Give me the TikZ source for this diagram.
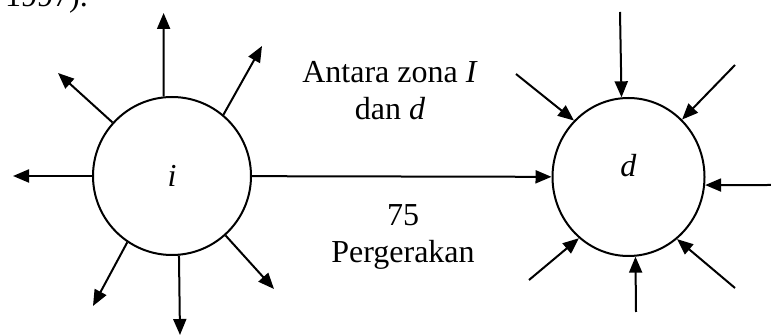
\documentclass[tikz,border=0pt]{standalone}
\usepackage{fontspec}
\setmainfont{Liberation Serif}
\usetikzlibrary{arrows.meta,shapes.geometric}

\begin{document}
\begin{tikzpicture}[
  x=1pt, y=-1pt,
  font=\fontsize{32}{37}\selectfont,
  zone/.style={circle, draw, line width=2pt, minimum size=158pt, inner sep=0pt},
  arr/.style={-{Triangle[length=16pt, width=13pt]}, line width=2pt},
  lbl/.style={anchor=base, align=center, inner sep=0pt}
]
  \clip (0,0) rectangle (771,336);
  \node[anchor=base west, inner sep=0pt] (cite) at (5,7) {1997).};
  \node[zone] (i) at (172,176) {\textit{i}};
  \node[zone, ellipse, minimum width=152pt, minimum height=158pt,
        label={[yshift=11pt]center:\textit{d}}] (d) at (628.5,177) {};
  \draw[arr] (i) -- (d);
  \node[lbl] (between) at (390,120) {Antara zona \textit{I}\\dan \textit{d}};
  \node[lbl] (trips) at (403,263) {75\\Pergerakan};
  % trips leaving zone i
  \foreach \ang/\px/\py [count=\k] in {96/163.6/13, 50.7/262/46, 138.6/58/73,
      180/13/176, 236.3/93/306, 275.8/180/335, 312/274/289} {
    \coordinate (out\k) at (\px,\py);
    \draw[arr] (i.\ang) -- (out\k);
  }
  % trips entering zone d
  \foreach \ang/\px/\py [count=\k] in {95.7/620/12, 134.3/516/74, 47.8/735/65,
      354/771/185, 231/529/280, 275.3/636/312, 308/735/288} {
    \coordinate (in\k) at (\px,\py);
    \draw[arr] (in\k) -- (d.\ang);
  }
\end{tikzpicture}
\end{document}
